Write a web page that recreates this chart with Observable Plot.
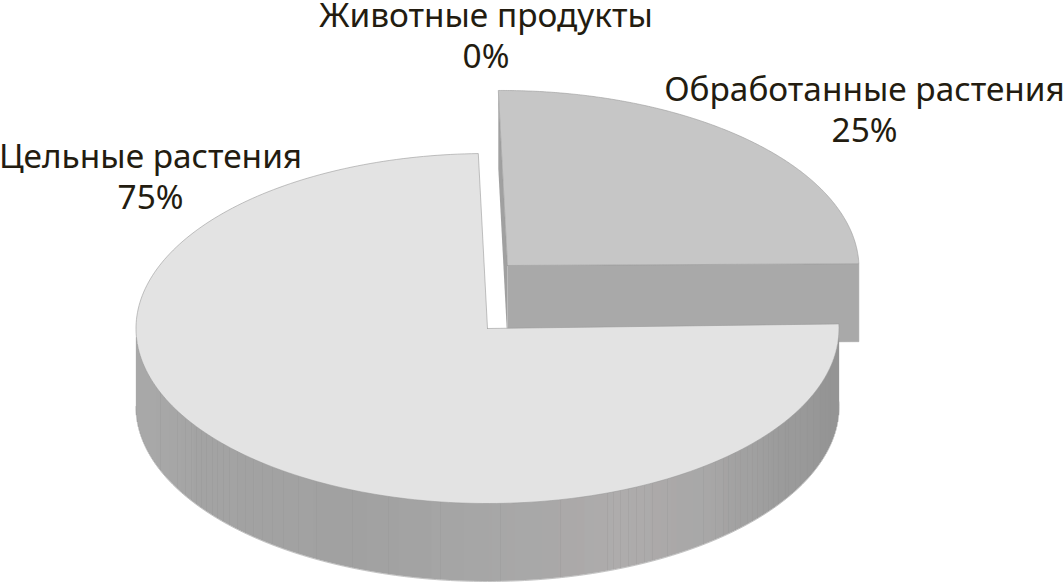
<!DOCTYPE html>
<html><head><meta charset="utf-8">
<script src="https://cdn.jsdelivr.net/npm/d3@7"></script>
<script src="https://cdn.jsdelivr.net/npm/@observablehq/plot@0.6"></script>
<style>html,body{margin:0;padding:0;background:#fff}svg{display:block}</style>
</head><body><div id="chart"></div>
<script>
// data
const categories = ["Цельные растения", "Животные продукты", "Обработанные растения"];
const shares = [75, 0, 25];

// streak positions read along the wall of the large slice
const streakXs = [160,177,185,191,196,201,206,212,217,223,229,237,245,253,262,272,283,298,316,352,388,
  440,500,560,607,613,620,628,636,644,652,667,703,715,723,728,735,740,747,752,757,763,768,773,778,785,788,795,800,807,813,820,825,830];

// layout (not data)
const W = 1064, H = 583;
const RX = 351.5, RY = 175, DEPTH = 78;
const startDeg = 88.5;
const centers = {0: {cx: 487, cy: 328, tilt: 0}, 2: {cx: 507, cy: 265, tilt: 0.008}};
const labelX = [150, 485.5, 864];
const labelY = [175, 34, 108];
const wallStopX = [136, 200, 350, 480, 620, 700, 780, 838];
const wallStopC = ["#a9a9a9", "#a4a4a4", "#a2a2a2", "#a6a6a6", "#aeacac", "#a9a8a8", "#9c9c9c", "#949494"];
const INK = "#231c10", EDGE = "#9a9a9a";

const arcs = d3.pie().sort(null).value(d => d)
  .startAngle(startDeg * Math.PI / 180)
  .endAngle((startDeg + 360) * Math.PI / 180)(shares);

function pt(c, a, dz = 0) {
  const dx = RX * Math.sin(a);
  return {x: c.cx + dx, y: c.cy - RY * Math.cos(a) + c.tilt * dx + dz};
}
function arcPts(c, a0, a1, dz = 0) {
  return d3.range(0, 241).map(i => pt(c, a0 + (a1 - a0) * i / 240, dz));
}
const a0 = arcs[0], a2 = arcs[2];
const cMain = centers[0], cSmall = centers[2];

// top faces
const topMain = [{x: cMain.cx, y: cMain.cy}, ...arcPts(cMain, a0.startAngle, a0.endAngle), {x: cMain.cx, y: cMain.cy}];
const topSmall = [{x: cSmall.cx, y: cSmall.cy}, ...arcPts(cSmall, a2.startAngle, a2.endAngle), {x: cSmall.cx, y: cSmall.cy}];

// faces of the small slice, extruded from its radial edges
const frontSmall = [
  {x: cSmall.cx, y: cSmall.cy}, pt(cSmall, a2.endAngle),
  pt(cSmall, a2.endAngle, DEPTH), {x: cSmall.cx, y: cSmall.cy + DEPTH}];
const backSmall = [
  pt(cSmall, a2.startAngle), {x: cSmall.cx, y: cSmall.cy},
  {x: cSmall.cx, y: cSmall.cy + DEPTH}, pt(cSmall, a2.startAngle, DEPTH)];

// visible wall of the big slice
const yAt = x => {
  const u = Math.max(-1, Math.min(1, (x - cMain.cx) / RX));
  return cMain.cy + RY * Math.sqrt(1 - u * u);
};
const wallLeft = cMain.cx - RX, wallRight = pt(cMain, a0.startAngle).x;
const wallX = d3.range(wallLeft + 0.5, wallRight, 1);
const tone = d3.scaleLinear().domain(wallStopX).range(wallStopC);
const rim = arcPts(cMain, a0.startAngle, Math.PI * 1.5, DEPTH);

const chart = Plot.plot({
  width: W, height: H, margin: 0,
  x: {domain: [0, W], range: [0, W], axis: null},
  y: {domain: [0, H], range: [0, H], axis: null},
  style: {background: "transparent", overflow: "visible"},
  marks: [
    Plot.line(backSmall, {x: "x", y: "y", fill: "#a0a0a0", stroke: "none"}),
    Plot.line(frontSmall, {x: "x", y: "y", fill: "#a9a9a9", stroke: "#a3a3a3", strokeWidth: 0.5}),
    Plot.line(topSmall, {x: "x", y: "y", fill: "#c6c6c6", stroke: EDGE, strokeWidth: 0.6}),
    Plot.ruleX(wallX, {x: d => d, y1: d => yAt(d), y2: d => yAt(d) + DEPTH, stroke: d => tone(d), strokeWidth: 1.3}),
    Plot.ruleX(streakXs, {x: d => d, y1: d => yAt(d), y2: d => yAt(d) + DEPTH, stroke: "#8f8f8f", strokeWidth: 0.6, strokeOpacity: 0.4}),
    Plot.line(rim, {x: "x", y: "y", stroke: EDGE, strokeWidth: 0.6}),
    Plot.line(topMain, {x: "x", y: "y", fill: "#e3e3e3", stroke: EDGE, strokeWidth: 0.6}),
    Plot.text(categories, {
      x: (d, i) => labelX[i], y: (d, i) => labelY[i],
      text: (d, i) => `${d}\n${shares[i]}%`,
      fill: INK, fontSize: 33.4, lineHeight: 1.24, fontFamily: "'Noto Sans', sans-serif", textAnchor: "middle"
    })
  ]
});
document.getElementById("chart").append(chart);
</script></body></html>
